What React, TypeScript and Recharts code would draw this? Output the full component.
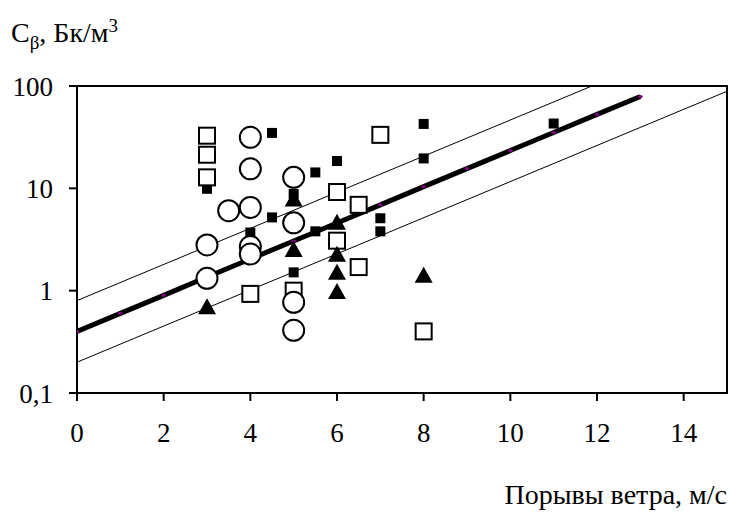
import {
  ComposedChart,
  Line,
  ReferenceArea,
  Scatter,
  XAxis,
  YAxis,
} from "recharts"

// open squares
const squareX = [3, 3, 3, 4, 5, 6, 6, 6.5, 6.5, 7, 8]
const squareY = [32.7, 21.3, 12.8, 0.93, 1.0, 9.2, 3.08, 6.9, 1.7, 33.3, 0.4]

// open circles
const circleX = [4, 4, 3.5, 4, 5, 5, 3, 4, 4, 3, 5, 5]
const circleY = [31.5, 15.5, 6.05, 6.5, 12.8, 4.6, 2.8, 2.7, 2.28, 1.32, 0.77, 0.41]

// filled triangles
const triangleX = [3, 5, 5, 6, 6, 6, 6, 8]
const triangleY = [0.69, 7.8, 2.5, 4.6, 2.25, 1.5, 0.97, 1.4]

// small filled squares
const dotX = [3, 4.5, 5.5, 6, 4.5, 4, 5.5, 5, 5, 7, 7, 8, 8, 11]
const dotY = [9.9, 34.8, 14.3, 18.5, 5.2, 3.7, 3.8, 1.51, 8.8, 5.1, 3.8, 42.6, 19.6, 43]

// fitted trend (points at whole m/s)
const trendX = [0, 1, 2, 3, 4, 5, 6, 7, 8, 9, 10, 11, 12, 13]
const trendY = [0.4, 0.6, 0.9, 1.36, 2.04, 3.06, 4.59, 6.9, 10.4, 15.6, 23.4, 35.1, 52.8, 79]

// bounds around the trend
const boundX = [0, 15]
const upperY = [0.8, 355]
const lowerY = [0.2, 88.8]

const xTicks = [0, 2, 4, 6, 8, 10, 12, 14]
const yTicks = [0.1, 1, 10, 100]

const zip = (xs: number[], ys: number[]) => xs.map((x, i) => ({ x, y: ys[i] }))

const squares = zip(squareX, squareY)
const circles = zip(circleX, circleY)
const triangles = zip(triangleX, triangleY)
const dots = zip(dotX, dotY)
const trend = zip(trendX, trendY)
const upper = zip(boundX, upperY)
const lower = zip(boundX, lowerY)

const FONT = "'Liberation Serif', 'Times New Roman', serif"

const OpenSquare = (p: any) => (
  <rect x={p.cx - 8} y={p.cy - 8} width={16} height={16} fill="#fff" stroke="#000" strokeWidth={2} />
)
const OpenCircle = (p: any) => (
  <circle cx={p.cx} cy={p.cy} r={10.5} fill="#fff" stroke="#000" strokeWidth={2} />
)
const Triangle = (p: any) => (
  <path d={`M${p.cx},${p.cy - 9} L${p.cx + 9},${p.cy + 7} L${p.cx - 9},${p.cy + 7} Z`} fill="#000" />
)
const SmallSquare = (p: any) => (
  <rect x={p.cx - 5} y={p.cy - 5} width={10} height={10} fill="#000" />
)
const TrendDot = (p: any) => (
  <ellipse key={`td-${p.index}`} cx={p.cx} cy={p.cy} rx={2.5} ry={1.5} fill="#800080" />
)

export default function App() {
  return (
    <div style={{ position: "absolute", left: 0, top: 0, width: 729, height: 513, background: "#fff", fontFamily: FONT }}>
      <div style={{ position: "absolute", left: 11, top: 10, fontSize: 28, lineHeight: "32px", color: "#000" }}>
        C<sub style={{ fontSize: 19 }}>β</sub>, Бк/м<sup style={{ fontSize: 19 }}>3</sup>
      </div>
      <div style={{ position: "absolute", right: 2, top: 480, fontSize: 28, lineHeight: "30px", color: "#000" }}>
        Порывы ветра, м/с
      </div>
      <ComposedChart width={729} height={513} margin={{ top: 86, right: 2, left: 0, bottom: 80 }}>
        <XAxis
          dataKey="x"
          type="number"
          domain={[0, 15]}
          ticks={xTicks}
          allowDataOverflow
          height={40}
          tickSize={8}
          tickMargin={22}
          axisLine={{ stroke: "#000", strokeWidth: 2 }}
          tickLine={{ stroke: "#000", strokeWidth: 2 }}
          tick={{ fill: "#000", fontSize: 27, fontFamily: FONT }}
        />
        <YAxis
          dataKey="y"
          scale="log"
          domain={[0.1, 100]}
          ticks={yTicks}
          allowDataOverflow
          width={77}
          tickSize={8}
          tickMargin={16}
          tickFormatter={(v: number) => String(v).replace(".", ",")}
          axisLine={{ stroke: "#000", strokeWidth: 2 }}
          tickLine={{ stroke: "#000", strokeWidth: 2 }}
          tick={{ fill: "#000", fontSize: 27, fontFamily: FONT }}
        />
        <ReferenceArea x1={0} x2={15} y1={0.1} y2={100} fill="none" stroke="#000" strokeWidth={2} />
        <Line data={upper} dataKey="y" stroke="#000" strokeWidth={1} dot={false} isAnimationActive={false} />
        <Line data={lower} dataKey="y" stroke="#000" strokeWidth={1} dot={false} isAnimationActive={false} />
        <Line data={trend} dataKey="y" stroke="#000" strokeWidth={5} dot={TrendDot} isAnimationActive={false} />
        <Scatter data={dots} shape={SmallSquare} isAnimationActive={false} />
        <Scatter data={squares} shape={OpenSquare} isAnimationActive={false} />
        <Scatter data={triangles} shape={Triangle} isAnimationActive={false} />
        <Scatter data={circles} shape={OpenCircle} isAnimationActive={false} />
      </ComposedChart>
    </div>
  )
}
